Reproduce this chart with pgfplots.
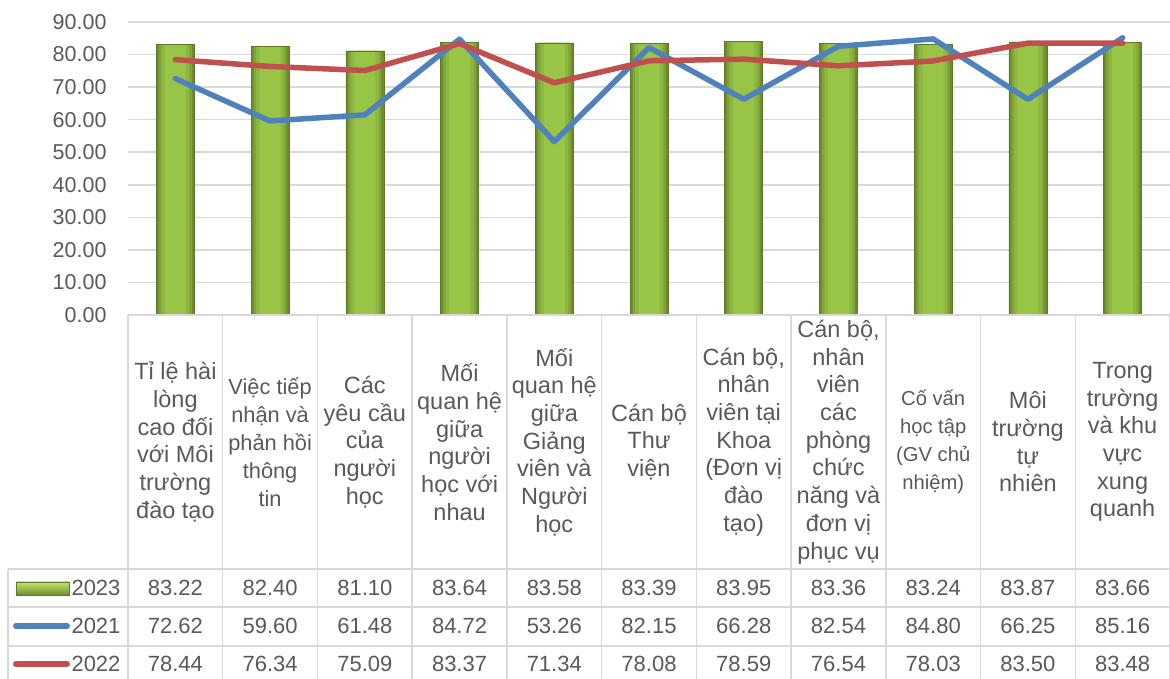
\documentclass[border=0pt]{standalone}
\usepackage{pgfplots}
\pgfplotsset{compat=1.18}
\usepackage{pgfplotstable}
\usepackage{fontspec}
\setmainfont{Liberation Sans}

\definecolor{txt}{HTML}{595959}
\definecolor{gridc}{HTML}{D9D9D9}
\definecolor{s21}{HTML}{4F81BD}
\definecolor{s22}{HTML}{C0504D}
\definecolor{barA}{HTML}{6C8C2E}
\definecolor{barB}{HTML}{7FA438}
\definecolor{barC}{HTML}{8DB740}
\definecolor{barD}{HTML}{98C546}
\definecolor{barline}{HTML}{5C7A26}
\definecolor{bartop}{HTML}{C4E66E}

\pgfkeys{/pgf/number format/assume math mode=true}

\pgfplotstableread{
idx y2023 y2021 y2022
0 83.22 72.62 78.44
1 82.40 59.60 76.34
2 81.10 61.48 75.09
3 83.64 84.72 83.37
4 83.58 53.26 71.34
5 83.39 82.15 78.08
6 83.95 66.28 78.59
7 83.36 82.54 76.54
8 83.24 84.80 78.03
9 83.87 66.25 83.50
10 83.66 85.16 83.48
}\datatable

\begin{document}
\begin{tikzpicture}
\useasboundingbox (0pt,0pt) rectangle (1170pt,679pt);

\begin{axis}[
  at={(128pt,364pt)}, anchor=south west,
  scale only axis, width=1042pt, height=293pt,
  xmin=-0.5, xmax=10.5, ymin=0, ymax=90,
  xtick=\empty,
  ytick={0,10,...,90},
  ymajorgrids, grid style={gridc, line width=1.5pt},
  axis line style={draw=none},
  major tick length=0pt,
  yticklabel style={xshift=-18pt, text=txt, font=\fontsize{21.5}{24}\selectfont},
  y tick label style={/pgf/number format/.cd, fixed, zerofill, precision=2, assume math mode=true},
  clip=false,
]
% 2023 bars, built up from the dark rim to the light centre
\addplot[ybar, bar width=38pt, fill=barA, draw=none]
  table[x=idx, y=y2023] {\datatable};
\addplot[ybar, bar width=33pt, fill=barB, draw=none]
  table[x=idx, y=y2023] {\datatable};
\addplot[ybar, bar width=28pt, fill=barC, draw=none]
  table[x=idx, y=y2023] {\datatable};
\addplot[ybar, bar width=21pt, fill=barD, draw=none]
  table[x=idx, y=y2023] {\datatable};
\addplot[ybar, bar width=38pt, fill=none, draw=barline, line width=0.6pt]
  table[x=idx, y=y2023] {\datatable};
% 2021 and 2022 lines
\addplot[s21, line width=5.5pt, line join=round, line cap=round, mark=none]
  table[x=idx, y=y2021] {\datatable};
\addplot[s22, line width=5.5pt, line join=round, line cap=round, mark=none]
  table[x=idx, y=y2022] {\datatable};
\end{axis}

\begin{scope}[x=1pt, y=1pt]
  % data table grid
  \draw[gridc, line width=1.5pt] (128,364) -- (1170,364);
  \foreach \yy in {110,72,33} {
    \draw[gridc, line width=1.5pt] (8,\yy) -- (1170,\yy);
  }
  \foreach \k in {0,...,11} {
    \draw[gridc, line width=1.5pt] ({128+94.73*\k},364) -- ({128+94.73*\k},-6);
  }
  \draw[gridc, line width=1.5pt] (8,110) -- (8,-6);

  % category names
  \begin{scope}[every node/.style={align=center, text=txt,
      font=\fontsize{23.5}{27.7}\selectfont}]
    \node at (175.4,237) {Tỉ lệ hài\\lòng\\cao đối\\với Môi\\trường\\đào tạo};
    \node[font=\fontsize{21.8}{28}\selectfont] at (270.1,237) {Việc tiếp\\nhận và\\phản hồi\\thông\\tin};
    \node at (364.8,237) {Các\\yêu cầu\\của\\người\\học};
    \node at (459.6,237) {Mối\\quan hệ\\giữa\\người\\học với\\nhau};
    \node at (554.3,237) {Mối\\quan hệ\\giữa\\Giảng\\viên và\\Người\\học};
    \node at (649.0,237) {Cán bộ\\Thư\\viện};
    \node at (743.7,237) {Cán bộ,\\nhân\\viên tại\\Khoa\\(Đơn vị\\đào\\tạo)};
    \node at (838.5,237) {Cán bộ,\\nhân\\viên\\các\\phòng\\chức\\năng và\\đơn vị\\phục vụ};
    \node[font=\fontsize{20.2}{28}\selectfont] at (933.2,237) {Cố vấn\\học tập\\(GV chủ\\nhiệm)};
    \node at (1027.9,237) {Môi\\trường\\tự\\nhiên};
    \node at (1122.6,237) {Trong\\trường\\và khu\\vực\\xung\\quanh};
  \end{scope}

  % legend keys and series names
  \shade[top color=bartop, bottom color=barA, draw=barline, line width=0.6pt]
    (16,84) rectangle (69,97);
  \draw[s21, line width=6pt, line cap=round] (16,53) -- (67,53);
  \draw[s22, line width=6pt, line cap=round] (16,15) -- (67,15);
  \begin{scope}[every node/.style={text=txt, anchor=west,
      font=\fontsize{22}{26}\selectfont}]
    \node at (68,91) {2023};
    \node at (68,53) {2021};
    \node at (68,15) {2022};
  \end{scope}

  % values of each series
  \foreach \i in {0,...,10} {
    \pgfplotstablegetelem{\i}{y2023}\of\datatable
    \node[text=txt, font=\fontsize{22}{26}\selectfont] at ({128+94.73*(\i+0.5)},91)
      {\pgfmathprintnumber[fixed,zerofill,precision=2]{\pgfplotsretval}};
    \pgfplotstablegetelem{\i}{y2021}\of\datatable
    \node[text=txt, font=\fontsize{22}{26}\selectfont] at ({128+94.73*(\i+0.5)},53)
      {\pgfmathprintnumber[fixed,zerofill,precision=2]{\pgfplotsretval}};
    \pgfplotstablegetelem{\i}{y2022}\of\datatable
    \node[text=txt, font=\fontsize{22}{26}\selectfont] at ({128+94.73*(\i+0.5)},15)
      {\pgfmathprintnumber[fixed,zerofill,precision=2]{\pgfplotsretval}};
  }
\end{scope}
\end{tikzpicture}
\end{document}
